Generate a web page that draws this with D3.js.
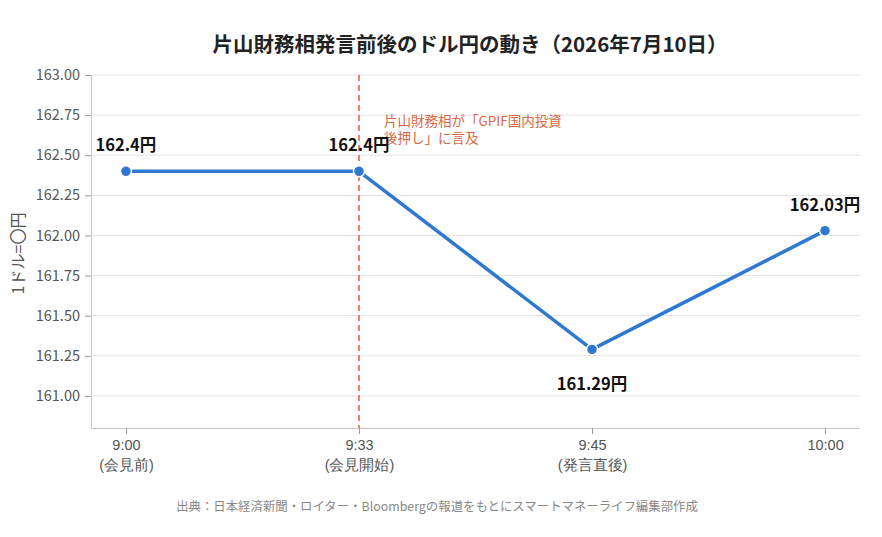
<!DOCTYPE html>
<html><head><meta charset="utf-8">
<script src="https://cdn.jsdelivr.net/npm/d3@7"></script>
<style>
body{margin:0;background:#fff;}
svg{display:block;font-family:"Noto Sans CJK JP","Noto Sans",sans-serif;}
</style></head>
<body><svg id="c" width="882" height="537"></svg>
<script>
const categories = ["9:00|(会見前)", "9:33|(会見開始)", "9:45|(発言直後)", "10:00"];
const values = [162.4, 162.4, 161.29, 162.03];
const valueLabels = ["162.4円", "162.4円", "161.29円", "162.03円"];
const labelAbove = [true, true, false, true];
const yTicks = [161.00, 161.25, 161.50, 161.75, 162.00, 162.25, 162.50, 162.75, 163.00];
const yDomain = [160.8, 163.0];
const titleText = "片山財務相発言前後のドル円の動き（2026年7月10日）";
const yLabel = "1ドル=〇円";
const annotLines = ["片山財務相が「GPIF国内投資", "後押し」に言及"];
const annotCategory = "9:33|(会見開始)";
const sourceText = "出典：日本経済新聞・ロイター・Bloombergの報道をもとにスマートマネーライフ編集部作成";

const svg = d3.select("#c");
const m = {l:91, r:860, t:75, b:428};
const x = d3.scalePoint().domain(categories).range([m.l, m.r]).padding(0.15);
const y = d3.scaleLinear().domain(yDomain).range([m.b, m.t]);

// grid
svg.append("g").selectAll("line").data(yTicks).join("line")
  .attr("x1", m.l).attr("x2", m.r)
  .attr("y1", d=>y(d)).attr("y2", d=>y(d))
  .attr("stroke", "#e3e3e3").attr("stroke-width", 1);

// y axis
const ya = svg.append("g").attr("transform", `translate(${m.l},0)`)
  .call(d3.axisLeft(y).tickValues(yTicks).tickFormat(d3.format(".2f")).tickSize(6).tickPadding(5));
ya.select(".domain").attr("d", `M0.5,${m.t}V${m.b}`).attr("stroke", "#c8c8c8");
ya.selectAll(".tick line").attr("stroke", "#999");
ya.selectAll(".tick text").attr("fill", "#555").style("font-size", "14.5px").style("font-family", "'Noto Sans CJK JP'");

// x axis
const xa = svg.append("g").attr("transform", `translate(0,${m.b})`)
  .call(d3.axisBottom(x).tickSize(6).tickFormat(""));
xa.select(".domain").attr("d", `M${m.l},0.5H${m.r}`).attr("stroke", "#c8c8c8");
xa.selectAll(".tick line").attr("stroke", "#999");
xa.selectAll(".tick").each(function(d){
  const parts = d.split("|");
  const t = d3.select(this).append("text").attr("fill", "#555")
    .attr("text-anchor", "middle").style("font-size", "14.5px");
  parts.forEach((p,i)=>t.append("tspan").attr("x", 0).attr("y", 22 + i*20).text(p));
});

// y label
svg.append("text").attr("transform", `translate(24,${(m.t+m.b)/2+2}) rotate(-90)`)
  .attr("text-anchor", "middle").attr("fill", "#555").style("font-size", "16px").text(yLabel);

// annotation dashed line
const ax = x(annotCategory);
svg.append("line").attr("x1", ax).attr("x2", ax).attr("y1", m.t).attr("y2", m.b)
  .attr("stroke", "#e8846c").attr("stroke-width", 2).attr("stroke-dasharray", "6,4");
const at = svg.append("text").attr("fill", "#d9673f").style("font-size", "13.5px");
annotLines.forEach((l,i)=>at.append("tspan").attr("x", ax+25).attr("y", 126 + i*17).text(l));

// line
const pts = categories.map((c,i)=>({c, v:values[i], lab:valueLabels[i], above:labelAbove[i]}));
svg.append("path").datum(pts)
  .attr("d", d3.line().x(d=>x(d.c)).y(d=>y(d.v)))
  .attr("fill", "none").attr("stroke", "#2f78d0").attr("stroke-width", 3.5)
  .attr("stroke-linejoin", "round");
svg.append("g").selectAll("circle").data(pts).join("circle")
  .attr("cx", d=>x(d.c)).attr("cy", d=>y(d.v)).attr("r", 5.5)
  .attr("fill", "#2f78d0").attr("stroke", "#fff").attr("stroke-width", 1.5);
svg.append("g").selectAll("text").data(pts).join("text")
  .attr("x", d=>x(d.c)).attr("y", d=>y(d.v) + (d.above ? -20 : 41))
  .attr("text-anchor", "middle").attr("fill", "#111")
  .style("font-size", "16.5px").style("font-weight", "bold").text(d=>d.lab);

// title
svg.append("text").attr("x", 470).attr("y", 52).attr("text-anchor", "middle")
  .attr("fill", "#222").style("font-size", "20.5px").style("font-weight", "bold").text(titleText);

// source
svg.append("text").attr("x", 437).attr("y", 511).attr("text-anchor", "middle")
  .attr("fill", "#888").style("font-size", "12.4px").text(sourceText);
</script></body></html>
